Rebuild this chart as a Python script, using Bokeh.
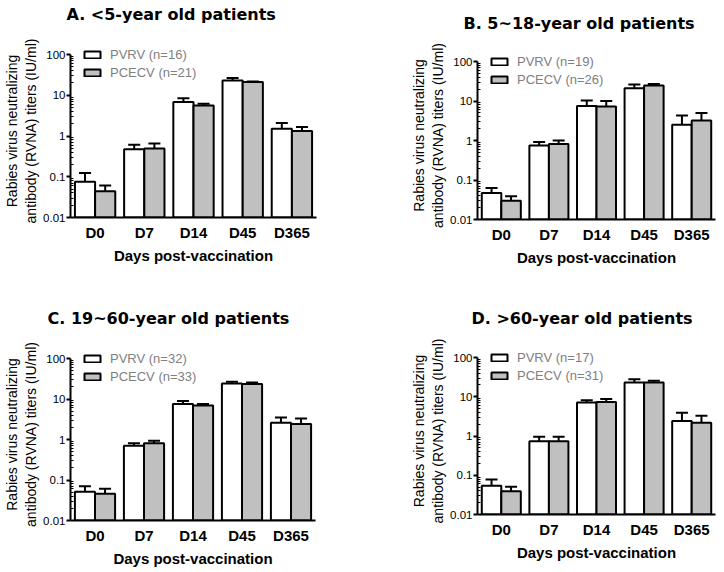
import math
from bokeh.plotting import figure
from bokeh.models import (ColumnDataSource, FactorRange, Range1d, FixedTicker,
                          CustomJSTickFormatter, Whisker, TeeHead, Legend, LegendItem, Label)
from bokeh.transform import dodge
from bokeh.layouts import column, row
from bokeh.embed import file_html
from bokeh.resources import INLINE

days = ["D0", "D7", "D14", "D45", "D365"]
y_major = [0.01, 0.1, 1, 10, 100]
y_minor_mult = [2, 3, 4, 5, 6, 7, 8, 9]

# Panel A: <5-year old
a_title = "A. <5-year old patients"
a_n = [16, 21]
a_pvrv = [0.075, 0.47, 6.8, 23.0, 1.50]
a_pvrv_lo = [0.020, 0.36, 5.1, 19.0, 1.00]
a_pvrv_hi = [0.124, 0.61, 8.5, 26.5, 2.08]
a_pcecv = [0.044, 0.49, 5.6, 21.0, 1.32]
a_pcecv_lo = [0.025, 0.34, 5.0, 19.8, 1.01]
a_pcecv_hi = [0.061, 0.65, 6.2, 21.8, 1.66]

# Panel B: 5~18-year old
b_title = "B. 5~18-year old patients"
b_n = [19, 26]
b_pvrv = [0.047, 0.75, 7.5, 21.0, 2.5]
b_pvrv_lo = [0.035, 0.59, 5.7, 17.0, 1.24]
b_pvrv_hi = [0.063, 0.91, 10.3, 26.0, 4.3]
b_pcecv = [0.030, 0.82, 7.3, 24.7, 3.2]
b_pcecv_lo = [0.0235, 0.65, 5.5, 22.5, 1.6]
b_pcecv_hi = [0.039, 1.0, 10.0, 27.0, 5.0]

# Panel C: 19~60-year old
c_title = "C. 19~60-year old patients"
c_n = [32, 33]
c_pvrv = [0.051, 0.70, 7.5, 24.3, 2.6]
c_pvrv_lo = [0.036, 0.60, 5.7, 21.3, 1.8]
c_pvrv_hi = [0.070, 0.81, 8.9, 26.7, 3.5]
c_pcecv = [0.046, 0.81, 6.9, 23.4, 2.4]
c_pcecv_lo = [0.034, 0.70, 6.2, 21.3, 1.8]
c_pcecv_hi = [0.061, 0.93, 7.5, 25.7, 3.3]

# Panel D: >60-year old
d_title = "D. >60-year old patients"
d_n = [17, 31]
d_pvrv = [0.054, 0.74, 7.1, 23.0, 2.4]
d_pvrv_lo = [0.036, 0.58, 5.8, 19.0, 0.86]
d_pvrv_hi = [0.078, 0.95, 8.2, 28.0, 3.9]
d_pcecv = [0.039, 0.74, 7.4, 23.0, 2.16]
d_pcecv_lo = [0.028, 0.58, 6.5, 21.0, 1.23]
d_pcecv_hi = [0.051, 0.95, 8.7, 25.5, 3.3]

FONT = "Liberation Sans"
W = 362
EXT = 10  # room above the 100 line for the legend


def make_title(text, h, tx, ty):
    t = figure(width=W, height=h, x_range=Range1d(0, 1), y_range=Range1d(0, 1),
               output_backend="svg", toolbar_location=None,
               x_axis_location=None, y_axis_location=None, min_border=0)
    t.xgrid.visible = False
    t.ygrid.visible = False
    t.outline_line_color = None
    t.add_layout(Label(x=tx, y=ty, x_units="screen", y_units="screen", text=text,
                       text_font="DejaVu Sans", text_font_size="16px",
                       text_font_style="bold", text_color="black",
                       text_baseline="alphabetic", text_align="left"))
    return t


def make_panel(n, pv, pv_lo, pv_hi, pc, pc_lo, pc_hi, h, bl, br, bt, fh_data, bb):
    src = ColumnDataSource(dict(day=days, pv=pv, pv_lo=pv_lo, pv_hi=pv_hi,
                                pc=pc, pc_lo=pc_lo, pc_hi=pc_hi))
    lo_log, hi_log = math.log10(y_major[0]), math.log10(y_major[-1])
    y_end = 10 ** (hi_log + EXT * (hi_log - lo_log) / fh_data)
    p = figure(width=W, height=h, x_range=FactorRange(*days),
               y_range=Range1d(y_major[0], y_end), y_axis_type="log",
               output_backend="svg", toolbar_location=None,
               min_border_left=bl, min_border_right=br,
               min_border_top=bt, min_border_bottom=bb)
    rw = p.vbar(x=dodge("day", -0.205, range=p.x_range), top="pv", bottom=y_major[0],
                width=0.41, fill_color="white", line_color="black", line_width=2, source=src)
    rg = p.vbar(x=dodge("day", 0.205, range=p.x_range), top="pc", bottom=y_major[0],
                width=0.41, fill_color="#c0c0c0", line_color="black", line_width=2, source=src)
    for off, lo, hi in ((-0.205, "pv_lo", "pv_hi"), (0.205, "pc_lo", "pc_hi")):
        p.add_layout(Whisker(base=dodge("day", off, range=p.x_range), lower=lo, upper=hi,
                             source=src, line_width=2, line_color="black",
                             upper_head=TeeHead(size=12, line_width=2, line_color="black"),
                             lower_head=TeeHead(size=12, line_width=2, line_color="black")))
    leg = Legend(items=[LegendItem(label=f"PVRV (n={n[0]})", renderers=[rw]),
                        LegendItem(label=f"PCECV (n={n[1]})", renderers=[rg])],
                 location=(12, fh_data - 27), label_text_font=FONT,
                 label_text_font_size="13px",
                 label_text_color="#808080", glyph_width=20, glyph_height=9,
                 label_height=18, label_standoff=8, spacing=0, padding=0, margin=0,
                 border_line_color=None, background_fill_alpha=0)
    p.add_layout(leg)

    p.xgrid.visible = False
    p.ygrid.visible = False
    p.outline_line_color = None

    yax = p.yaxis[0]
    yax.bounds = (y_major[0], y_major[-1])
    yax.ticker = FixedTicker(ticks=y_major,
                             minor_ticks=[m * d for d in y_major[:-1] for m in y_minor_mult])
    yax.formatter = CustomJSTickFormatter(code="return tick.toString()")
    yax.axis_line_width = 2
    yax.major_tick_line_width = 2
    yax.major_tick_in = 0
    yax.major_tick_out = 4
    yax.minor_tick_in = 3
    yax.minor_tick_out = 0
    yax.major_label_standoff = 1
    yax.major_label_text_font = FONT
    yax.major_label_text_font_size = "11.5px"
    yax.major_label_text_color = "black"
    yax.axis_label = "Rabies virus neutralizing\nantibody (RVNA) titers (IU/ml)"
    yax.axis_label_text_font = FONT
    yax.axis_label_text_font_size = "14px"
    yax.axis_label_text_font_style = "normal"
    yax.axis_label_text_color = "black"
    yax.axis_label_standoff = 1

    xax = p.xaxis[0]
    xax.axis_line_width = 2
    xax.major_tick_line_color = None
    xax.major_tick_out = 0
    xax.major_tick_in = 0
    xax.major_label_standoff = 6
    xax.major_label_text_font = FONT
    xax.major_label_text_font_size = "15px"
    xax.major_label_text_font_style = "bold"
    xax.major_label_text_color = "black"
    xax.axis_label = "Days post-vaccination"
    xax.axis_label_text_font = FONT
    xax.axis_label_text_font_size = "15px"
    xax.axis_label_text_font_style = "bold"
    xax.axis_label_text_color = "black"
    xax.axis_label_standoff = 3
    return p


tA = make_title(a_title, 38, 66, 24)
pA = make_panel(a_n, a_pvrv, a_pvrv_lo, a_pvrv_hi, a_pcecv, a_pcecv_lo, a_pcecv_hi,
                250, 68, 46, 6, 163, 71)
tC = make_title(c_title, 48, 47, 18.5)
pC = make_panel(c_n, c_pvrv, c_pvrv_lo, c_pvrv_hi, c_pcecv, c_pcecv_lo, c_pcecv_hi,
                234, 68, 47, 12, 162, 50)

tB = make_title(b_title, 42, 101, 19)
pB = make_panel(b_n, b_pvrv, b_pvrv_lo, b_pvrv_hi, b_pcecv, b_pcecv_lo, b_pcecv_hi,
                246, 115, 9, 9, 158, 69)
tD = make_title(d_title, 48, 109, 18.5)
pD = make_panel(d_n, d_pvrv, d_pvrv_lo, d_pvrv_hi, d_pcecv, d_pcecv_lo, d_pcecv_hi,
                234, 115, 9, 11, 157, 56)

left = column(row(tA), row(pA), row(tC), row(pC))
right = column(row(tB), row(pB), row(tD), row(pD))
layout = row(left, right)
open("out.html", "w").write(file_html(layout, INLINE))
